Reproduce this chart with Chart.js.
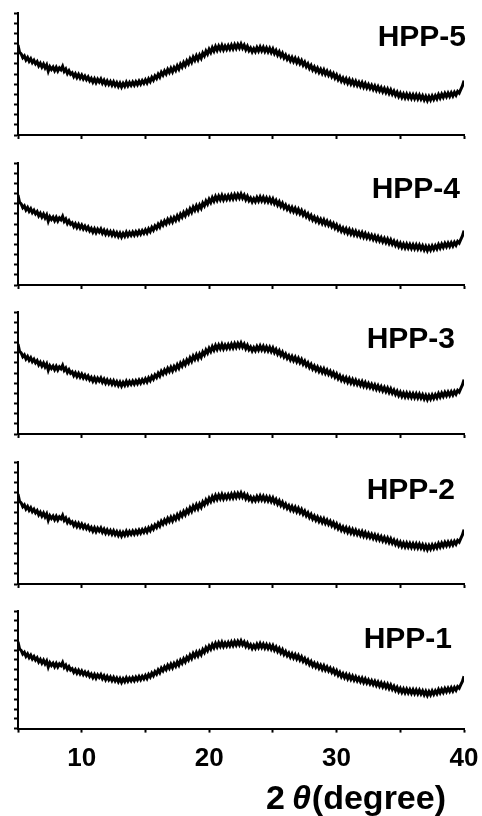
<!DOCTYPE html>
<html>
<head>
<meta charset="utf-8">
<script src="https://cdn.jsdelivr.net/npm/chart.js@4.4.0/dist/chart.umd.min.js"></script>
<style>
  html, body { margin: 0; padding: 0; background: #fff; }
  #wrap { position: relative; width: 482px; height: 816px; overflow: hidden; }
  #wrap canvas { position: absolute; left: 0; }
</style>
</head>
<body>
<div id="wrap"></div>
<script>
// samples, top panel first
const samples = ['HPP-5', 'HPP-4', 'HPP-3', 'HPP-2', 'HPP-1'];

// 2 theta (degree)
const twoTheta = [
  5, 5.125, 5.25, 5.375, 5.5, 5.625, 5.75, 5.875,
  6, 6.125, 6.25, 6.375, 6.5, 6.625, 6.75, 6.875,
  7, 7.125, 7.25, 7.375, 7.5, 7.625, 7.75, 7.875,
  8, 8.125, 8.25, 8.375, 8.5, 8.625, 8.75, 8.875,
  9, 9.125, 9.25, 9.375, 9.5, 9.625, 9.75, 9.875,
  10, 10.125, 10.25, 10.375, 10.5, 10.625, 10.75, 10.875,
  11, 11.125, 11.25, 11.375, 11.5, 11.625, 11.75, 11.875,
  12, 12.125, 12.25, 12.375, 12.5, 12.625, 12.75, 12.875,
  13, 13.125, 13.25, 13.375, 13.5, 13.625, 13.75, 13.875,
  14, 14.125, 14.25, 14.375, 14.5, 14.625, 14.75, 14.875,
  15, 15.125, 15.25, 15.375, 15.5, 15.625, 15.75, 15.875,
  16, 16.125, 16.25, 16.375, 16.5, 16.625, 16.75, 16.875,
  17, 17.125, 17.25, 17.375, 17.5, 17.625, 17.75, 17.875,
  18, 18.125, 18.25, 18.375, 18.5, 18.625, 18.75, 18.875,
  19, 19.125, 19.25, 19.375, 19.5, 19.625, 19.75, 19.875,
  20, 20.125, 20.25, 20.375, 20.5, 20.625, 20.75, 20.875,
  21, 21.125, 21.25, 21.375, 21.5, 21.625, 21.75, 21.875,
  22, 22.125, 22.25, 22.375, 22.5, 22.625, 22.75, 22.875,
  23, 23.125, 23.25, 23.375, 23.5, 23.625, 23.75, 23.875,
  24, 24.125, 24.25, 24.375, 24.5, 24.625, 24.75, 24.875,
  25, 25.125, 25.25, 25.375, 25.5, 25.625, 25.75, 25.875,
  26, 26.125, 26.25, 26.375, 26.5, 26.625, 26.75, 26.875,
  27, 27.125, 27.25, 27.375, 27.5, 27.625, 27.75, 27.875,
  28, 28.125, 28.25, 28.375, 28.5, 28.625, 28.75, 28.875,
  29, 29.125, 29.25, 29.375, 29.5, 29.625, 29.75, 29.875,
  30, 30.125, 30.25, 30.375, 30.5, 30.625, 30.75, 30.875,
  31, 31.125, 31.25, 31.375, 31.5, 31.625, 31.75, 31.875,
  32, 32.125, 32.25, 32.375, 32.5, 32.625, 32.75, 32.875,
  33, 33.125, 33.25, 33.375, 33.5, 33.625, 33.75, 33.875,
  34, 34.125, 34.25, 34.375, 34.5, 34.625, 34.75, 34.875,
  35, 35.125, 35.25, 35.375, 35.5, 35.625, 35.75, 35.875,
  36, 36.125, 36.25, 36.375, 36.5, 36.625, 36.75, 36.875,
  37, 37.125, 37.25, 37.375, 37.5, 37.625, 37.75, 37.875,
  38, 38.125, 38.25, 38.375, 38.5, 38.625, 38.75, 38.875,
  39, 39.125, 39.25, 39.375, 39.5, 39.625, 39.75, 39.875,
  40
];

// intensity (a.u.), the same pattern is shown in every panel
const intensity = [
  885, 812, 798, 760, 778, 738, 762, 725,
  750, 712, 735, 700, 722, 680, 705, 668,
  698, 660, 690, 628, 672, 645, 668, 632,
  665, 630, 660, 642, 675, 625, 648, 605,
  632, 598, 612, 575, 602, 566, 595, 560,
  588, 552, 578, 545, 570, 532, 556, 520,
  552, 515, 548, 522, 550, 510, 538, 500,
  532, 498, 526, 490, 522, 486, 515, 478,
  510, 472, 508, 480, 518, 484, 516, 488,
  520, 490, 524, 496, 530, 500, 534, 508,
  542, 512, 552, 526, 566, 540, 580, 556,
  598, 570, 616, 590, 630, 602, 645, 615,
  656, 622, 664, 636, 680, 648, 696, 668,
  712, 682, 728, 700, 748, 716, 766, 735,
  778, 742, 786, 755, 806, 778, 826, 796,
  842, 812, 858, 826, 870, 834, 875, 840,
  880, 838, 874, 842, 878, 845, 884, 848,
  888, 852, 890, 856, 895, 855, 884, 840,
  872, 830, 856, 818, 850, 820, 860, 826,
  866, 828, 862, 822, 856, 818, 852, 812,
  846, 802, 832, 788, 818, 774, 804, 758,
  786, 744, 770, 730, 762, 722, 754, 712,
  745, 702, 732, 688, 716, 672, 700, 655,
  684, 640, 668, 628, 658, 616, 646, 606,
  640, 598, 628, 588, 616, 575, 604, 560,
  590, 545, 574, 530, 560, 520, 552, 510,
  544, 503, 536, 495, 528, 488, 518, 480,
  514, 472, 506, 465, 496, 458, 488, 450,
  482, 441, 474, 434, 466, 426, 458, 418,
  452, 410, 444, 402, 432, 390, 420, 378,
  410, 370, 404, 366, 402, 364, 398, 360,
  396, 358, 394, 356, 392, 354, 386, 345,
  380, 340, 378, 344, 384, 350, 386, 356,
  398, 364, 402, 370, 408, 376, 412, 380,
  416, 384, 420, 392, 428, 412, 448, 482,
  535
];

const xLabels = [10, 20, 30, 40];
const axisTitle = ['2', 'θ', '(degree)'];

const FONT = '"Liberation Sans", Arial, sans-serif';
const labelRight = [466, 460, 455, 455, 452];
const labelDy = [25, 27, 28, 29, 29];

const panelLabel = {
  id: 'panelLabel',
  afterDatasetsDraw(chart, args, opts) {
    const ctx = chart.ctx;
    ctx.save();
    ctx.font = 'bold 30px ' + FONT;
    ctx.fillStyle = '#000';
    ctx.textAlign = 'right';
    ctx.textBaseline = 'middle';
    ctx.fillText(opts.text, opts.right, chart.chartArea.top + opts.dy);
    ctx.restore();
  }
};

// x title with an italic theta
const xTitle = {
  id: 'xTitle',
  afterDraw(chart, args, opts) {
    if (!opts.show) return;
    const ctx = chart.ctx;
    const y = chart.chartArea.bottom + 80;
    let x = opts.left;
    ctx.save();
    ctx.fillStyle = '#000';
    ctx.textBaseline = 'alphabetic';
    ctx.textAlign = 'left';
    ctx.font = 'bold 34px ' + FONT;
    ctx.fillText(axisTitle[0], x, y);
    x += ctx.measureText(axisTitle[0]).width + 7;
    ctx.font = 'italic bold 34px ' + FONT;
    ctx.fillText(axisTitle[1], x, y);
    x += ctx.measureText(axisTitle[1]).width + 1;
    ctx.font = 'bold 34px ' + FONT;
    ctx.fillText(axisTitle[2], x, y);
    ctx.restore();
  }
};

const wrap = document.getElementById('wrap');

samples.forEach((name, i) => {
  const isLast = i === samples.length - 1;
  const canvas = document.createElement('canvas');
  canvas.width = 482;
  canvas.height = isLast ? 218 : 150;
  canvas.style.top = Math.round(i * 149.5) + 'px';
  wrap.appendChild(canvas);

  const axisLine = { display: true, color: '#000', width: 2 };
  const tickMarks = { drawOnChartArea: false, drawTicks: true, tickLength: 4, tickColor: '#000', tickWidth: 2 };

  new Chart(canvas.getContext('2d'), {
    type: 'line',
    data: {
      datasets: [{
        label: name,
        data: twoTheta.map((t, k) => ({ x: t, y: intensity[k] })),
        borderColor: '#000',
        borderWidth: 3,
        pointRadius: 0,
        tension: 0,
        fill: false
      }]
    },
    options: {
      responsive: false,
      animation: false,
      devicePixelRatio: 1,
      layout: { padding: { top: 13, left: 14, right: 18, bottom: isLast ? 30 : 11 } },
      plugins: {
        legend: { display: false },
        tooltip: { enabled: false },
        panelLabel: { text: name, right: labelRight[i], dy: labelDy[i] },
        xTitle: { show: isLast, left: 266 }
      },
      scales: {
        x: {
          type: 'linear',
          min: 5,
          max: 40,
          border: axisLine,
          grid: tickMarks,
          ticks: {
            display: isLast,
            stepSize: 5,
            autoSkip: false,
            maxRotation: 0,
            padding: 2,
            color: '#000',
            font: { family: FONT, size: 26, weight: 'bold', lineHeight: 1.9 },
            callback: v => xLabels.includes(v) ? String(v) : ''
          }
        },
        y: {
          min: 0,
          max: 1200,
          border: axisLine,
          grid: tickMarks,
          ticks: { display: false, stepSize: 100 }
        }
      }
    },
    plugins: [panelLabel, xTitle]
  });
});
</script>
</body>
</html>
